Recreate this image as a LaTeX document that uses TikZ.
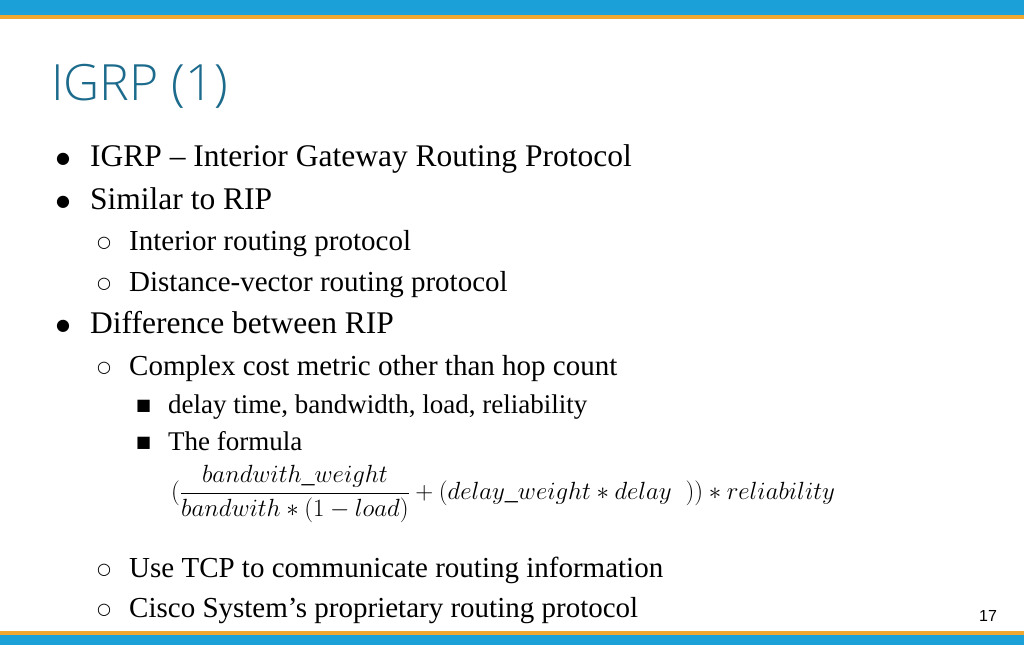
\documentclass[tikz,border=0pt]{standalone}
\usepackage{fontspec}
\setmainfont{Liberation Serif}
\newfontfamily\titlefont{Open Sans Light}
\newfontfamily\symfont{DejaVu Sans}
\newfontfamily\numfont{Liberation Sans}
\definecolor{barblue}{HTML}{1BA1D8}
\definecolor{barorange}{HTML}{F0A830}
\definecolor{titleteal}{HTML}{1C6B8C}
\tikzset{
  txt/.style={anchor=base west, inner sep=0pt},
  lvla/.style={txt, font=\fontsize{31.5}{33}\selectfont},
  lvlb/.style={txt, font=\fontsize{29}{31}\selectfont},
  lvlc/.style={txt, font=\fontsize{27}{29}\selectfont},
  dotsym/.style={txt, font=\symfont\fontsize{16}{18}\selectfont},
}
\begin{document}
\begin{tikzpicture}[x=1pt,y=-1pt]
    \useasboundingbox (0,0) rectangle (1024,645);
    \fill[white] (0,0) rectangle (1024,645);
    % bars
    \fill[barblue] (0,0) rectangle (1024,15);
    \fill[barorange] (0,15) rectangle (1024,19);
    \fill[barorange] (0,631) rectangle (1024,635);
    \fill[barblue] (0,635) rectangle (1024,645);

%title
    \node[txt, text=titleteal, font=\titlefont\fontsize{50}{52}\selectfont] (title) at (51,100) {IGRP (1)};

%bullets
    \node[dotsym] (b1) at (56,163) {●};
    \node[lvla] (t1) at (90,166) {IGRP – Interior Gateway Routing Protocol};
    \node[dotsym] (b2) at (56,206) {●};
    \node[lvla] (t2) at (90,209) {Similar to RIP};
    \node[dotsym] (b3) at (97,247) {○};
    \node[lvlb] (t3) at (129,250) {Interior routing protocol};
    \node[dotsym] (b4) at (97,288) {○};
    \node[lvlb] (t4) at (129,291) {Distance-vector routing protocol};
    \node[dotsym] (b5) at (56,330) {●};
    \node[lvla] (t5) at (90,333) {Difference between RIP};
    \node[dotsym] (b6) at (97,372) {○};
    \node[lvlb] (t6) at (129,375) {Complex cost metric other than hop count};
    \node[dotsym] (b7) at (136,410) {■};
    \node[lvlc] (t7) at (168,413) {delay time, bandwidth, load, reliability};
    \node[dotsym] (b8) at (136,447) {■};
    \node[lvlc] (t8) at (168,450) {The formula};

%formula
    \node[anchor=west, inner sep=0pt, font=\fontsize{26}{28}\selectfont] (formula) at (171,494)
      {$\displaystyle\Bigl(\frac{bandwith\_weight}{bandwith*(1-load)}+(delay\_weight*delay\;\;))*reliability$};

    \node[dotsym] (b9) at (97,574) {○};
    \node[lvlb] (t9) at (129,577) {Use TCP to communicate routing information};
    \node[dotsym] (b10) at (97,614) {○};
    \node[lvlb] (t10) at (129,617) {Cisco System’s proprietary routing protocol};

    \node[txt, font=\numfont\fontsize{16}{18}\selectfont] (page) at (979,621) {17};
\end{tikzpicture}
\end{document}
